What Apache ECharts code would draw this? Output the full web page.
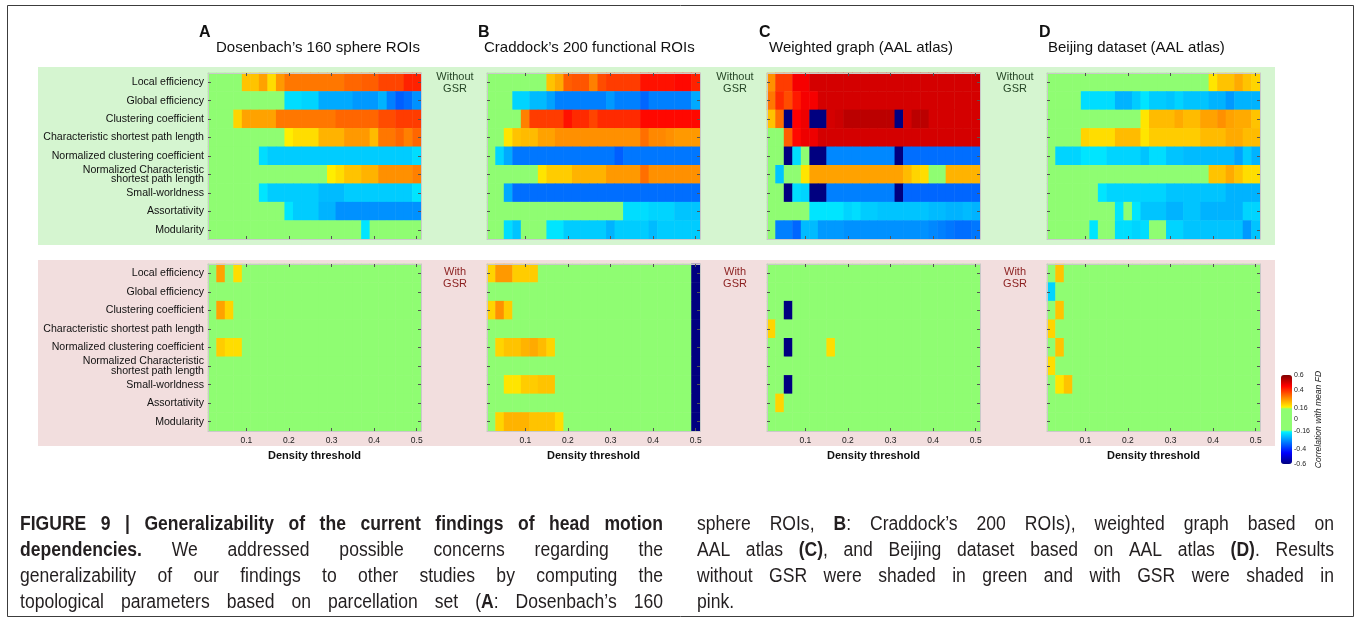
<!DOCTYPE html>
<html>
<head>
<meta charset="utf-8">
<title>Generalizability of head motion dependencies</title>
<script src="https://cdn.jsdelivr.net/npm/echarts@6/dist/echarts.min.js"></script>
<style>
  html, body { margin: 0; padding: 0; background: #ffffff; }
  #chart { width: 1356px; height: 621px; }
</style>
</head>
<body>
<div id="chart"></div>
<script>
// ---- Categories -----------------------------------------------------------
const densities = ['0.02','0.04','0.06','0.08','0.10','0.12','0.14','0.16','0.18','0.20',
                   '0.22','0.24','0.26','0.28','0.30','0.32','0.34','0.36','0.38','0.40',
                   '0.42','0.44','0.46','0.48','0.50'];
const metrics = ['Local efficiency', 'Global efficiency', 'Clustering coefficient',
                 'Characteristic shortest path length', 'Normalized clustering coefficient',
                 'Normalized Characteristic\nshortest path length', 'Small-worldness',
                 'Assortativity', 'Modularity'];
const xTickLabels = ['0.1', '0.2', '0.3', '0.4', '0.5'];
const colorbarTicks = [0.6, 0.4, 0.16, 0, -0.16, -0.4, -0.6];
const panelLetters = ['A', 'B', 'C', 'D'];
const panelTitles = ['Dosenbach\u2019s 160 sphere ROIs', 'Craddock\u2019s 200 functional ROIs',
                     'Weighted graph (AAL atlas)', 'Beijing dataset (AAL atlas)'];

// ---- Correlation with mean FD (rows = metrics, columns = densities) -------
const ZERO = [0,0,0,0,0, 0,0,0,0,0, 0,0,0,0,0, 0,0,0,0,0, 0,0,0,0,0];

const dosenbachNoGsr = [
  [0,0,0,0,.22,  .22,.26,.19,.27,.31,  .31,.31,.31,.31,.31,  .31,.33,.33,.34,.34,  .37,.37,.37,.41,.41],
  [0,0,0,0,0,  0,0,0,0,-.19,  -.19,-.2,-.2,-.25,-.25,  -.25,-.25,-.27,-.27,-.27,  -.24,-.3,-.34,-.32,-.28],
  [0,0,0,.2,.26,  .26,.26,.26,.31,.31,  .31,.31,.31,.31,.31,  .33,.33,.33,.33,.33,  .36,.36,.38,.38,.38],
  [0,0,0,0,0,  0,0,0,0,.17,  .19,.19,.19,.24,.24,  .24,.27,.27,.27,.23,  .31,.31,.33,.3,.33],
  [0,0,0,0,0,  0,-.19,-.21,-.21,-.21,  -.21,-.21,-.21,-.21,-.21,  -.21,-.21,-.21,-.21,-.21,  -.21,-.21,-.21,-.21,-.19],
  [0,0,0,0,0,  0,0,0,0,0,  0,0,0,0,.17,  .19,.22,.22,.24,.24,  .28,.28,.28,.28,.3],
  [0,0,0,0,0,  0,-.18,-.21,-.21,-.21,  -.21,-.21,-.21,-.23,-.23,  -.23,-.21,-.21,-.21,-.21,  -.21,-.21,-.21,-.21,-.18],
  [0,0,0,0,0,  0,0,0,0,-.18,  -.21,-.21,-.21,-.24,-.24,  -.28,-.28,-.28,-.28,-.28,  -.28,-.28,-.28,-.28,-.28],
  [0,0,0,0,0,  0,0,0,0,0,  0,0,0,0,0,  0,0,0,-.18,0,  0,0,0,0,0]
];
const craddockNoGsr = [
  [0,0,0,0,0,  0,0,.22,.25,.34,  .35,.35,.3,.36,.38,  .38,.38,.38,.43,.43,  .43,.43,.44,.44,.41],
  [0,0,0,-.2,-.2,  -.23,-.23,-.26,-.3,-.3,  -.3,-.3,-.3,-.3,-.27,  -.3,-.3,-.3,-.33,-.3,  -.3,-.3,-.3,-.3,-.25],
  [0,0,0,0,.3,  .38,.38,.38,.38,.43,  .4,.4,.37,.4,.4,  .4,.4,.4,.44,.44,  .44,.44,.44,.44,.44],
  [0,0,.18,.22,.23,  .23,.26,.26,.28,.28,  .28,.28,.28,.28,.28,  .28,.28,.28,.32,.29,  .29,.28,.27,.27,.27],
  [0,-.2,-.25,-.31,-.31,  -.31,-.31,-.31,-.31,-.31,  -.31,-.31,-.31,-.31,-.31,  -.34,-.31,-.31,-.31,-.31,  -.31,-.31,-.31,-.31,-.31],
  [0,0,0,0,0,  0,.18,.21,.21,.21,  .24,.24,.24,.24,.27,  .27,.27,.27,.32,.28,  .28,.28,.28,.28,.28],
  [0,0,-.25,-.32,-.32,  -.32,-.32,-.32,-.32,-.32,  -.32,-.32,-.32,-.32,-.32,  -.32,-.32,-.32,-.32,-.32,  -.32,-.32,-.32,-.32,-.32],
  [0,0,0,0,0,  0,0,0,0,0,  0,0,0,0,0,  0,-.19,-.19,-.19,-.2,  -.2,-.2,-.22,-.22,-.22],
  [0,0,-.19,-.22,0,  0,0,-.18,-.18,-.21,  -.21,-.21,-.21,-.21,-.24,  -.21,-.21,-.21,-.21,-.23,  -.21,-.21,-.21,-.21,-.21]
];
const weightedNoGsr = [
  [.28,.38,.38,.46,.46,  .5,.5,.5,.5,.5,  .5,.5,.5,.5,.5,  .5,.5,.5,.5,.5,  .5,.5,.5,.5,.5],
  [.31,.4,.36,.42,.46,  .46,.5,.5,.5,.5,  .5,.5,.5,.5,.5,  .5,.5,.5,.5,.5,  .5,.5,.5,.5,.5],
  [.22,.32,-.6,.45,.47,  -.6,-.6,.5,.51,.53,  .53,.53,.53,.53,.53,  -.6,.5,.53,.53,.5,  .5,.5,.5,.5,.5],
  [0,0,.34,.44,.47,  .47,.5,.5,.5,.5,  .5,.5,.5,.5,.5,  .5,.5,.5,.5,.5,  .5,.5,.5,.5,.5],
  [0,0,-.6,-.19,0,  -.6,-.6,-.29,-.29,-.29,  -.29,-.29,-.29,-.29,-.29,  -.6,-.32,-.32,-.32,-.32,  -.32,-.32,-.32,-.32,-.32],
  [0,-.22,0,0,.18,  .26,.26,.26,.26,.26,  .26,.26,.26,.26,.26,  .26,.23,.2,.19,0,  0,.24,.24,.24,.24],
  [0,0,-.6,-.19,-.2,  -.6,-.6,-.3,-.3,-.3,  -.3,-.3,-.3,-.3,-.3,  -.6,-.33,-.33,-.33,-.33,  -.33,-.33,-.33,-.33,-.33],
  [0,0,0,0,0,  -.18,-.18,-.18,-.18,-.2,  -.19,-.21,-.21,-.22,-.22,  -.22,-.22,-.22,-.22,-.23,  -.23,-.24,-.24,-.23,-.24],
  [0,-.3,-.3,-.33,-.23,  -.23,-.27,-.27,-.27,-.28,  -.28,-.28,-.28,-.28,-.28,  -.28,-.28,-.28,-.28,-.29,  -.3,-.31,-.32,-.32,-.31]
];
const beijingNoGsr = [
  [0,0,0,0,0,  0,0,0,0,0,  0,0,0,0,0,  0,0,0,0,.18,  .22,.22,.25,.22,.2],
  [0,0,0,0,-.19,  -.19,-.19,-.19,-.24,-.24,  -.21,-.18,-.21,-.21,-.22,  -.2,-.22,-.22,-.22,-.24,  -.24,-.27,-.24,-.24,-.24],
  [0,0,0,0,0,  0,0,0,0,0,  0,.18,.23,.23,.23,  .25,.23,.23,.26,.26,  .28,.26,.25,.25,.22],
  [0,0,0,0,.2,  .19,.19,.19,.23,.23,  .23,.18,.21,.21,.21,  .21,.21,.21,.23,.23,  .23,.25,.25,.23,.23],
  [0,-.2,-.2,-.2,-.18,  -.18,-.18,-.2,-.2,-.2,  -.2,-.22,-.19,-.19,-.22,  -.22,-.23,-.23,-.23,-.23,  -.23,-.23,-.26,-.21,-.24],
  [0,0,0,0,0,  0,0,0,0,0,  0,0,0,0,0,  0,0,0,0,.22,  .22,.25,.22,.19,.19],
  [0,0,0,0,0,  0,-.18,-.2,-.2,-.2,  -.2,-.2,-.2,-.2,-.22,  -.22,-.22,-.22,-.22,-.22,  -.22,-.24,-.24,-.24,-.24],
  [0,0,0,0,0,  0,0,0,-.18,0,  -.18,-.22,-.22,-.22,-.24,  -.24,-.22,-.22,-.24,-.24,  -.24,-.24,-.24,-.2,-.2],
  [0,0,0,0,0,  -.18,0,0,-.19,-.19,  -.2,-.19,0,0,-.2,  -.2,-.22,-.22,-.22,-.22,  -.22,-.22,-.22,-.27,-.22]
];

const dosenbachGsr = [
  [0,.26,0,.19,0,  0,0,0,0,0,  0,0,0,0,0,  0,0,0,0,0,  0,0,0,0,0],
  ZERO,
  [0,.26,.2,0,0,  0,0,0,0,0,  0,0,0,0,0,  0,0,0,0,0,  0,0,0,0,0],
  ZERO,
  [0,.21,.19,.19,0,  0,0,0,0,0,  0,0,0,0,0,  0,0,0,0,0,  0,0,0,0,0],
  ZERO, ZERO, ZERO, ZERO
];
const craddockGsr = [
  [.2,.27,.27,.21,.21,  .21,0,0,0,0,  0,0,0,0,0,  0,0,0,0,0,  0,0,0,0,-.6],
  [0,0,0,0,0,  0,0,0,0,0,  0,0,0,0,0,  0,0,0,0,0,  0,0,0,0,-.6],
  [.2,.28,.21,0,0,  0,0,0,0,0,  0,0,0,0,0,  0,0,0,0,0,  0,0,0,0,-.6],
  [0,0,0,0,0,  0,0,0,0,0,  0,0,0,0,0,  0,0,0,0,0,  0,0,0,0,-.6],
  [0,.2,.22,.22,.24,  .25,.23,.2,0,0,  0,0,0,0,0,  0,0,0,0,0,  0,0,0,0,-.6],
  [0,0,0,0,0,  0,0,0,0,0,  0,0,0,0,0,  0,0,0,0,0,  0,0,0,0,-.6],
  [0,0,.18,.18,.21,  .21,.22,.22,0,0,  0,0,0,0,0,  0,0,0,0,0,  0,0,0,0,-.6],
  [0,0,0,0,0,  0,0,0,0,0,  0,0,0,0,0,  0,0,0,0,0,  0,0,0,0,-.6],
  [0,.2,.24,.24,.24,  .22,.22,.22,.19,0,  0,0,0,0,0,  0,0,0,0,0,  0,0,0,0,-.6]
];
const weightedGsr = [
  ZERO,
  ZERO,
  [0,0,-.6,0,0,  0,0,0,0,0,  0,0,0,0,0,  0,0,0,0,0,  0,0,0,0,0],
  [.2,0,0,0,0,  0,0,0,0,0,  0,0,0,0,0,  0,0,0,0,0,  0,0,0,0,0],
  [0,0,-.6,0,0,  0,0,.19,0,0,  0,0,0,0,0,  0,0,0,0,0,  0,0,0,0,0],
  ZERO,
  [0,0,-.6,0,0,  0,0,0,0,0,  0,0,0,0,0,  0,0,0,0,0,  0,0,0,0,0],
  [0,.2,0,0,0,  0,0,0,0,0,  0,0,0,0,0,  0,0,0,0,0,  0,0,0,0,0],
  ZERO
];
const beijingGsr = [
  [0,.22,0,0,0,  0,0,0,0,0,  0,0,0,0,0,  0,0,0,0,0,  0,0,0,0,0],
  [-.2,0,0,0,0,  0,0,0,0,0,  0,0,0,0,0,  0,0,0,0,0,  0,0,0,0,0],
  [0,.22,0,0,0,  0,0,0,0,0,  0,0,0,0,0,  0,0,0,0,0,  0,0,0,0,0],
  [.2,0,0,0,0,  0,0,0,0,0,  0,0,0,0,0,  0,0,0,0,0,  0,0,0,0,0],
  [0,.22,0,0,0,  0,0,0,0,0,  0,0,0,0,0,  0,0,0,0,0,  0,0,0,0,0],
  [.19,0,0,0,0,  0,0,0,0,0,  0,0,0,0,0,  0,0,0,0,0,  0,0,0,0,0],
  [0,.18,.22,0,0,  0,0,0,0,0,  0,0,0,0,0,  0,0,0,0,0,  0,0,0,0,0],
  ZERO,
  ZERO
];

// ---- Caption ---------------------------------------------------------------
const captionCol1 = [
  '**FIGURE 9 | Generalizability of the current findings of head motion**',
  '**dependencies.** We addressed possible concerns regarding the',
  'generalizability of our findings to other studies by computing the',
  'topological parameters based on parcellation set (**A**: Dosenbach\u2019s 160'
];
const captionCol2 = [
  'sphere ROIs, **B**: Craddock\u2019s 200 ROIs), weighted graph based on',
  'AAL atlas **(C)**, and Beijing dataset based on AAL atlas **(D)**. Results',
  'without GSR were shaded in green and with GSR were shaded in',
  'pink.'
];

// ---- Styling / layout --------------------------------------------------------
const FONT = "'Liberation Sans', Arial, sans-serif";
const CAPTION_FONT = "'Liberation Sans', Arial, sans-serif";
const CAPTION_SIZE = 19.5;
const CAPTION_SQUEEZE = 0.9;       // condensed caption face
const GRID_LEFTS = [208, 487, 767, 1047];
const GRID_W = 213;
const ROWS = [{ top: 73, height: 166 }, { top: 264, height: 167 }];
const NEUTRAL_GREEN = '#8ffd72';

// jet colour map with the non-significant band (|r| < 0.16) shown in green
function jetColor(t) {
  const c = x => Math.round(255 * Math.max(0, Math.min(1, x)));
  return 'rgb(' + c(1.5 - Math.abs(4 * t - 3)) + ',' + c(1.5 - Math.abs(4 * t - 2)) + ',' +
         c(1.5 - Math.abs(4 * t - 1)) + ')';
}
const palette = [];
for (let i = -60; i <= 60; i++) {
  palette.push(Math.abs(i) < 16 ? NEUTRAL_GREEN : jetColor((i / 100 + 0.6) / 1.2));
}

const panels = [
  dosenbachNoGsr, craddockNoGsr, weightedNoGsr, beijingNoGsr,
  dosenbachGsr, craddockGsr, weightedGsr, beijingGsr
];

const isDensityTick = (idx, val) => xTickLabels.indexOf(String(Number(val))) >= 0;

const grids = [], xAxes = [], yAxes = [], series = [];
panels.forEach((values, i) => {
  const col = i % 4, row = Math.floor(i / 4);
  grids.push({ left: GRID_LEFTS[col], width: GRID_W, top: ROWS[row].top, height: ROWS[row].height });
  const frame = { show: true, lineStyle: { color: '#c9c9c9', width: 1 } };
  const tickStyle = { color: '#555', width: 1 };
  xAxes.push({
    gridIndex: i, type: 'category', data: densities, position: 'bottom', z: 10,
    axisLine: frame,
    axisTick: { show: true, inside: true, length: 3, alignWithLabel: true, interval: isDensityTick, lineStyle: tickStyle },
    axisLabel: {
      show: row === 1, interval: isDensityTick, formatter: v => String(Number(v)),
      fontSize: 8.5, color: '#222', margin: 5, fontFamily: FONT
    },
    name: row === 1 ? 'Density threshold' : '', nameLocation: 'middle', nameGap: 19,
    nameTextStyle: { fontSize: 11, fontWeight: 'bold', color: '#111', fontFamily: FONT },
    splitLine: { show: false }
  });
  xAxes.push({
    gridIndex: i, type: 'category', data: densities, position: 'top', z: 10,
    axisLine: frame,
    axisTick: { show: true, inside: true, length: 3, alignWithLabel: true, interval: isDensityTick, lineStyle: tickStyle },
    axisLabel: { show: false }, splitLine: { show: false }
  });
  yAxes.push({
    gridIndex: i, type: 'category', data: metrics, inverse: true, position: 'left', z: 10,
    axisLine: frame,
    axisTick: { show: true, inside: true, length: 3, alignWithLabel: true, interval: 0, lineStyle: tickStyle },
    axisLabel: {
      show: col === 0, interval: 0, fontSize: 10.6, lineHeight: 9.5, color: '#111',
      margin: 4, fontFamily: FONT
    },
    splitLine: { show: false }
  });
  yAxes.push({
    gridIndex: i, type: 'category', data: metrics, inverse: true, position: 'right', z: 10,
    axisLine: frame,
    axisTick: { show: true, inside: true, length: 3, alignWithLabel: true, interval: 0, lineStyle: tickStyle },
    axisLabel: { show: false }, splitLine: { show: false }
  });
  const data = [];
  values.forEach((rowVals, r) => rowVals.forEach((v, c) => data.push([c, r, v])));
  series.push({
    type: 'heatmap', xAxisIndex: 2 * i, yAxisIndex: 2 * i, data,
    itemStyle: { borderWidth: 0 }, emphasis: { disabled: true }, silent: true, progressive: 0
  });
});

// colour-bar scale (labels and name)
grids.push({ left: 1281, top: 375, width: 11, height: 89 });
xAxes.push({ gridIndex: 8, type: 'value', show: false });
yAxes.push({
  gridIndex: 8, type: 'value', min: -0.6, max: 0.6, position: 'right', z: 10,
  axisLine: { show: false },
  axisTick: { show: false },
  axisLabel: { customValues: colorbarTicks, formatter: v => String(v), fontSize: 7, color: '#222',
               margin: 2, fontFamily: FONT },
  splitLine: { show: false },
  name: 'Correlation with mean FD', nameLocation: 'middle', nameRotate: 90, nameGap: 19,
  nameTextStyle: { fontSize: 8.6, fontStyle: 'italic', color: '#222', fontFamily: FONT }
});

// ---- Graphic elements: frame, shaded bands, titles, caption -------------------
const graphics = [
  { type: 'rect', z: -20, shape: { x: 38, y: 67, width: 1237, height: 178 }, style: { fill: '#d5f5d0' } },
  { type: 'rect', z: -20, shape: { x: 38, y: 260, width: 1237, height: 186 }, style: { fill: '#f2dede' } },
  { type: 'rect', z: 50, shape: { x: 7.5, y: 5.5, width: 1346, height: 611 },
    style: { fill: 'transparent', stroke: '#3c3c3c', lineWidth: 1 } }
];
const letterX = [199, 478, 759, 1039];
const titleX = [216, 484, 769, 1048];
panelLetters.forEach((letter, k) => {
  graphics.push({ type: 'text', x: letterX[k], y: 32.5, style: {
    text: letter, fontSize: 16, fontWeight: 'bold', fontFamily: FONT, fill: '#111', verticalAlign: 'middle' } });
  graphics.push({ type: 'text', x: titleX[k], y: 48, style: {
    text: panelTitles[k], fontSize: 15, fontFamily: FONT, fill: '#111', verticalAlign: 'middle' } });
});
[455, 735, 1015].forEach(cx => {
  graphics.push({ type: 'text', x: cx, y: 83, style: {
    text: 'Without\nGSR', fontSize: 11, lineHeight: 12, fontFamily: FONT, fill: '#264626',
    align: 'center', verticalAlign: 'middle' } });
  graphics.push({ type: 'text', x: cx, y: 278, style: {
    text: 'With\nGSR', fontSize: 11, lineHeight: 12.5, fontFamily: FONT, fill: '#8a1e1e',
    align: 'center', verticalAlign: 'middle' } });
});

// justified caption, laid out word by word
(function layoutCaption() {
  const ctx = document.createElement('canvas').getContext('2d');
  const fontOf = b => (b ? 'bold ' : '') + CAPTION_SIZE + 'px ' + CAPTION_FONT;
  const lineY = [525, 550.5, 577, 603];
  const columns = [
    { x: 20, width: 643, lines: captionCol1 },
    { x: 697, width: 637, lines: captionCol2 }
  ];
  let bold = false;
  columns.forEach((col, ci) => {
    col.lines.forEach((line, li) => {
      const words = line.split(' ').map(w => {
        const segs = [];
        w.split('**').forEach((part, k) => {
          if (k > 0) bold = !bold;
          if (part) {
            ctx.font = fontOf(bold);
            segs.push({ text: part, bold, w: ctx.measureText(part).width * CAPTION_SQUEEZE });
          }
        });
        return segs;
      });
      const widths = words.map(s => s.reduce((a, g) => a + g.w, 0));
      const total = widths.reduce((a, b) => a + b, 0);
      const last = ci === columns.length - 1 && li === col.lines.length - 1;
      ctx.font = fontOf(false);
      const gap = last ? ctx.measureText(' ').width * CAPTION_SQUEEZE
                       : (col.width - total) / (words.length - 1);
      let x = col.x;
      words.forEach(segs => {
        segs.forEach(g => {
          graphics.push({ type: 'text', x, y: lineY[li], scaleX: CAPTION_SQUEEZE, style: {
            text: g.text, fontSize: CAPTION_SIZE, fontWeight: g.bold ? 'bold' : 'normal',
            fontFamily: CAPTION_FONT, fill: '#231f20', verticalAlign: 'middle' } });
          x += g.w;
        });
        x += gap;
      });
    });
  });
})();

const chart = echarts.init(document.getElementById('chart'), null, { renderer: 'canvas' });
chart.setOption({
  animation: false,
  backgroundColor: '#ffffff',
  textStyle: { fontFamily: FONT },
  grid: grids,
  xAxis: xAxes,
  yAxis: yAxes,
  visualMap: {
    type: 'continuous', min: -0.6, max: 0.6, calculable: false, hoverLink: false,
    seriesIndex: [0, 1, 2, 3, 4, 5, 6, 7],
    inRange: { color: palette },
    left: 1281, top: 375, itemWidth: 11, itemHeight: 89, padding: 0, text: null,
    textStyle: { fontSize: 0 }
  },
  graphic: { elements: graphics },
  series
});
</script>
</body>
</html>
